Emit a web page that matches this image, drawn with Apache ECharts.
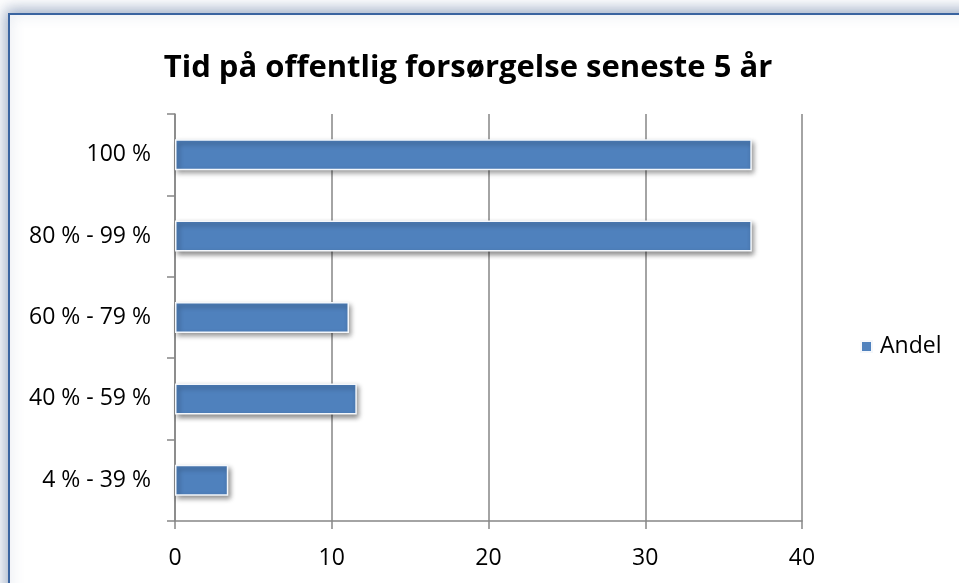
<!DOCTYPE html>
<html>
<head>
<meta charset="utf-8">
<script src="https://cdn.jsdelivr.net/npm/echarts@6/dist/echarts.min.js"></script>
<style>
  html, body { margin: 0; padding: 0; background: #fff; }
  #chart { width: 959px; height: 583px; }
</style>
</head>
<body>
<div id="chart"></div>
<script>
const chart = echarts.init(document.querySelector('#chart'));

// data
const categories = ['4 % - 39 %', '40 % - 59 %', '60 % - 79 %', '80 % - 99 %', '100 %'];
const andel = [3.4, 11.6, 11.1, 36.8, 36.8];
const xTicks = [0, 10, 20, 30, 40];

const axisGrey = '#868686';
const labelFont = '"Open Sans", "Noto Sans", sans-serif';

chart.setOption({
    animation: false,
    backgroundColor: '#fff',
    graphic: [
        {
            type: 'rect',
            z: -10,
            shape: { x: 9, y: 14, width: 980, height: 620 },
            style: {
                fill: '#fff',
                stroke: '#3a64a0',
                lineWidth: 2,
                shadowColor: 'rgba(60, 90, 140, 0.5)',
                shadowBlur: 14,
                shadowOffsetX: -2,
                shadowOffsetY: -3
            }
        }
    ],
    title: {
        text: 'Tid på offentlig forsørgelse seneste 5 år',
        left: 463,
        textAlign: 'center',
        top: 48,
        textStyle: {
            fontFamily: labelFont,
            fontWeight: 'bold',
            fontSize: 31,
            color: '#000'
        }
    },
    legend: {
        data: ['Andel'],
        left: 855,
        top: 330,
        itemWidth: 11,
        itemHeight: 11,
        icon: 'rect',
        textStyle: {
            fontFamily: labelFont,
            fontSize: 23,
            color: '#000',
            padding: [0, 0, 0, 3]
        }
    },
    grid: {
        left: 175,
        right: 157,
        top: 114,
        bottom: 62,
        containLabel: false
    },
    xAxis: {
        type: 'value',
        min: 0,
        max: 40,
        interval: 10,
        axisLine: { show: true, lineStyle: { color: axisGrey, width: 1.5 } },
        axisTick: { show: true, length: 8, lineStyle: { color: axisGrey, width: 1.5 } },
        splitLine: { show: true, lineStyle: { color: axisGrey, width: 1.5 } },
        axisLabel: {
            margin: 26,
            fontFamily: labelFont,
            fontSize: 23,
            color: '#000',
            formatter: (v) => xTicks.includes(v) ? String(v) : ''
        }
    },
    yAxis: {
        type: 'category',
        data: categories,
        boundaryGap: true,
        axisLine: { show: true, lineStyle: { color: axisGrey, width: 1.5 } },
        axisTick: { show: true, length: 8, lineStyle: { color: axisGrey, width: 1.5 } },
        axisLabel: {
            margin: 24,
            fontFamily: labelFont,
            fontSize: 23,
            color: '#000'
        }
    },
    series: [
        {
            name: 'Andel',
            type: 'bar',
            data: andel,
            barWidth: 31,
            itemStyle: {
                color: '#4f81bd',
                borderColor: '#f4f7fb',
                borderWidth: 1.5,
                shadowColor: 'rgba(0, 0, 0, 0.45)',
                shadowBlur: 5,
                shadowOffsetX: 2,
                shadowOffsetY: 3
            }
        }
    ]
});
</script>
</body>
</html>
